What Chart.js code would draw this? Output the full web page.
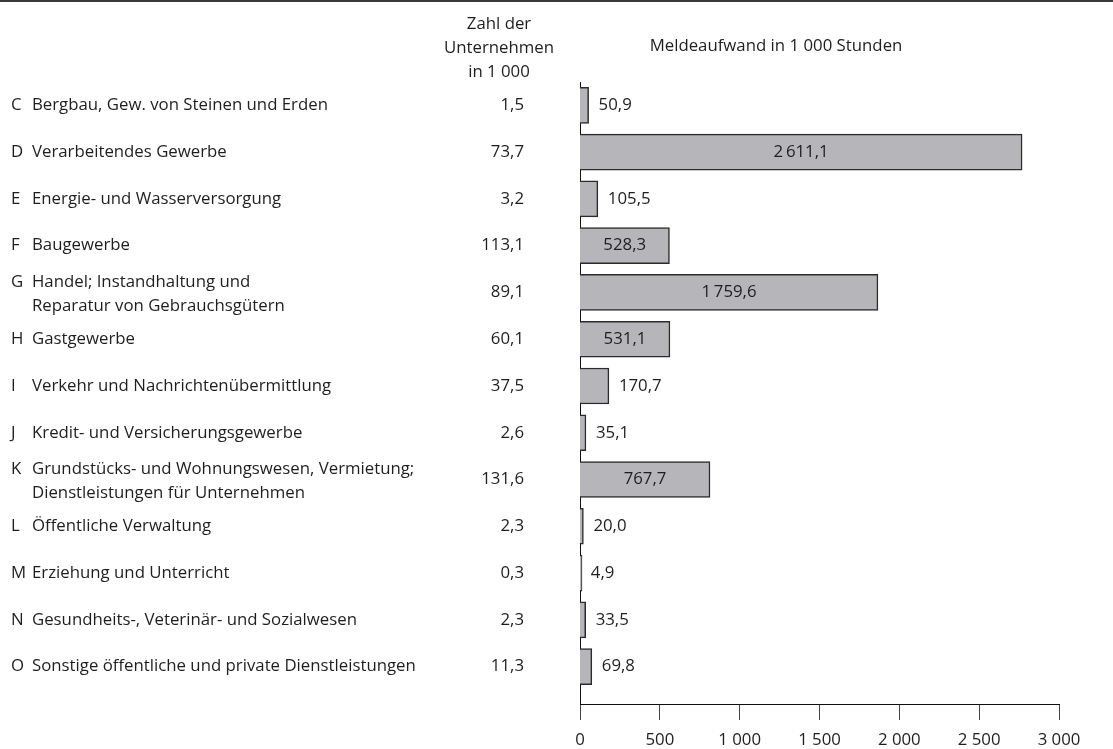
<!DOCTYPE html>
<html><head><meta charset="utf-8">
<script src="https://cdn.jsdelivr.net/npm/chart.js@4.4.0/dist/chart.umd.min.js"></script>
<style>html,body{margin:0;padding:0;background:#fff}#wrap{width:1113px;height:749px;position:relative}</style>
</head><body><div id="wrap"><canvas id="c" width="1113" height="749"></canvas></div>
<script>
const codes = ['C','D','E','F','G','H','I','J','K','L','M','N','O'];
const branches = [
  ['Bergbau, Gew. von Steinen und Erden'],
  ['Verarbeitendes Gewerbe'],
  ['Energie- und Wasserversorgung'],
  ['Baugewerbe'],
  ['Handel; Instandhaltung und', 'Reparatur von Gebrauchsgütern'],
  ['Gastgewerbe'],
  ['Verkehr und Nachrichtenübermittlung'],
  ['Kredit- und Versicherungsgewerbe'],
  ['Grundstücks- und Wohnungswesen, Vermietung;', 'Dienstleistungen für Unternehmen'],
  ['Öffentliche Verwaltung'],
  ['Erziehung und Unterricht'],
  ['Gesundheits-, Veterinär- und Sozialwesen'],
  ['Sonstige öffentliche und private Dienstleistungen']
];
const companies = [1.5, 73.7, 3.2, 113.1, 89.1, 60.1, 37.5, 2.6, 131.6, 2.3, 0.3, 2.3, 11.3];
const hours = [50.9, 2611.1, 105.5, 528.3, 1759.6, 531.1, 170.7, 35.1, 767.7, 20.0, 4.9, 33.5, 69.8];
const tickValues = [0, 500, 1000, 1500, 2000, 2500, 3000];
const tickLabels = ['0', '500', '1 000', '1 500', '2 000', '2 500', '3 000'];
const headerCount = ['Zahl der', 'Unternehmen', 'in 1 000'];
const headerHours = 'Meldeaufwand in 1 000 Stunden';

const FAMILY = 'Open Sans';
const SIZE = 16.8;
const FONT = SIZE + 'px "' + FAMILY + '"';
const TXT = '#1e1e1e';

function fmt(v) {
  const s = v.toFixed(1).split('.');
  const int = s[0].replace(/\B(?=(\d{3})+(?!\d))/g, '\u2009');
  return int + ',' + s[1];
}

const textPlugin = {
  id: 'texts',
  afterDraw(chart) {
    const ctx = chart.ctx;
    const y = chart.scales.y;
    const xb = chart.scales.xb;
    ctx.save();
    ctx.fillStyle = '#3a3a3a';
    ctx.fillRect(0, 0, chart.width, 2);
    ctx.font = FONT;
    ctx.fillStyle = TXT;
    ctx.textBaseline = 'middle';
    ctx.textAlign = 'center';
    headerCount.forEach((t, k) => ctx.fillText(t, 499, 24 + k * 24));
    ctx.fillText(headerHours, 776, 46);
    codes.forEach((c, i) => {
      const py = y.getPixelForValue(i);
      const lines = branches[i];
      const y0 = lines.length > 1 ? py - 10 : py;
      ctx.textAlign = 'left';
      ctx.fillText(c, 11, y0);
      lines.forEach((l, k) => ctx.fillText(l, 32, y0 + k * 24));
      ctx.textAlign = 'right';
      ctx.fillText(fmt(companies[i]), 524, py);
      const v = hours[i];
      const end = xb.getPixelForValue(v);
      const base = xb.getPixelForValue(0);
      if (v >= 500) {
        ctx.textAlign = 'center';
        ctx.fillText(fmt(v), (base + end) / 2, py);
      } else {
        ctx.textAlign = 'left';
        ctx.fillText(fmt(v), end + 10, py);
      }
    });
    ctx.restore();
  }
};

new Chart(document.getElementById('c'), {
  type: 'bar',
  data: {
    datasets: [{
      data: hours.map((v, i) => ({ x: v, y: i })),
      xAxisID: 'xb',
      yAxisID: 'y',
      barThickness: 36,
      minBarLength: 2,
      backgroundColor: '#b6b6ba',
      borderColor: '#2b2b2b',
      borderWidth: 1.5
    }]
  },
  options: {
    indexAxis: 'y',
    responsive: false,
    devicePixelRatio: 1,
    animation: false,
    layout: { padding: { left: 580, right: 54, top: 82, bottom: 0 } },
    plugins: { legend: { display: false }, tooltip: { enabled: false } },
    scales: {
      x: {
        type: 'linear', position: 'bottom', min: 0, max: 3000,
        afterBuildTicks: s => { s.ticks = tickValues.map(v => ({ value: v })); },
        afterFit: s => { s.height = 45; },
        ticks: { callback: (v, i) => tickLabels[i], font: { family: FAMILY, size: SIZE }, color: TXT, padding: 10, maxRotation: 0, autoSkip: false },
        grid: { drawOnChartArea: false, drawTicks: true, tickLength: 16, color: '#444', lineWidth: 1 },
        border: { display: true, color: '#111', width: 1 }
      },
      xb: { type: 'linear', position: 'bottom', display: false, min: 0, max: 2829 },
      y: {
        type: 'linear', reverse: true, min: -0.5, max: 12.8,
        offset: false, bounds: 'data', grace: 0,
        afterFit: s => { s.width = 0; },
        ticks: { display: false },
        grid: { display: false, offset: false },
        border: { display: true, color: '#111', width: 1 }
      }
    }
  },
  plugins: [textPlugin]
});
</script>
</body></html>
